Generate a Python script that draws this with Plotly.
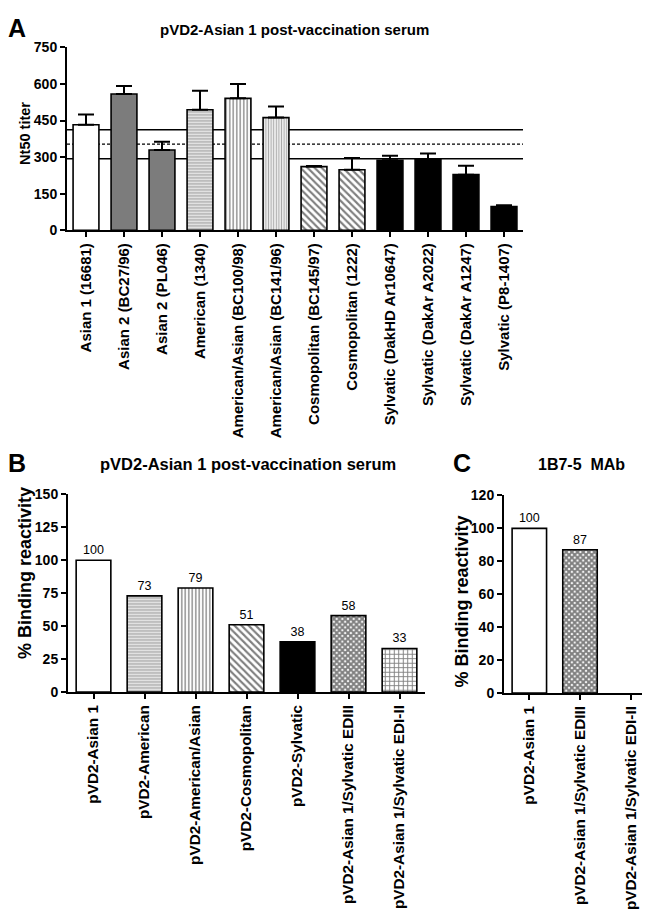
import plotly.graph_objects as go

FONT = "Liberation Sans, Arial, sans-serif"

# ---------------- Panel A data ----------------
strains_A = ["Asian 1 (16681)", "Asian 2 (BC27/96)", "Asian 2 (PL046)", "American (1340)",
             "American/Asian (BC100/98)", "American/Asian (BC141/96)", "Cosmopolitan (BC145/97)",
             "Cosmopolitan (1222)", "Sylvatic (DakHD Ar10647)", "Sylvatic (DakAr A2022)",
             "Sylvatic (DakAr A1247)", "Sylvatic (P8-1407)"]
nt50_titer = [433, 559, 329, 494, 541, 462, 261, 248, 287, 291, 228, 97]
nt50_err_up = [42, 33, 34, 78, 59, 46, 2, 48, 18, 24, 36, 5]
ref_mean = 353
ref_upper = 412
ref_lower = 293
yticks_A = [0, 150, 300, 450, 600, 750]

# ---------------- Panel B data ----------------
viruses_B = ["pVD2-Asian 1", "pVD2-American", "pVD2-American/Asian", "pVD2-Cosmopolitan",
             "pVD2-Sylvatic", "pVD2-Asian 1/Sylvatic EDIII", "pVD2-Asian 1/Sylvatic EDI-II"]
binding_B = [100, 73, 79, 51, 38, 58, 33]
yticks_B = [0, 25, 50, 75, 100, 125, 150]

# ---------------- Panel C data ----------------
viruses_C = ["pVD2-Asian 1", "pVD2-Asian 1/Sylvatic EDIII", "pVD2-Asian 1/Sylvatic EDI-II"]
binding_C = [100, 87, None]
yticks_C = [0, 20, 40, 60, 80, 100, 120]

W, H = 650, 913


def px(x):
    return x / W


def py(y):
    return 1 - y / H


# styles
WHITE = dict(color="white")
GRAY = dict(color="#7c7c7c")
BLACK = dict(color="black")
HLINES = dict(color="white", pattern=dict(shape="-", fgcolor="#444444", bgcolor="white", size=3, solidity=0.55))
VLINES = dict(color="white", pattern=dict(shape="|", fgcolor="#151515", bgcolor="white", size=3.5, solidity=0.4))
VLINES2 = dict(color="white", pattern=dict(shape="|", fgcolor="#555555", bgcolor="white", size=2.6, solidity=0.5))
DIAG = dict(color="white", pattern=dict(shape="\\", fgcolor="black", bgcolor="white", size=5, solidity=0.42))
CHECK = dict(color="white", pattern=dict(shape="x", fgcolor="black", bgcolor="white", size=4, solidity=0.75))
GRID = dict(color="white", pattern=dict(shape="+", fgcolor="black", bgcolor="white", size=4.5, solidity=0.38))

styles_A = [WHITE, GRAY, GRAY, HLINES, VLINES, VLINES2, DIAG, DIAG, BLACK, BLACK, BLACK, BLACK]
styles_B = [WHITE, HLINES, VLINES, DIAG, BLACK, CHECK, GRID]
styles_C = [WHITE, CHECK, WHITE]

fig = go.Figure()


def add_bars(cats, vals, styles, xa, ya, err=None, labels=False):
    for i, (c, v, s) in enumerate(zip(cats, vals, styles)):
        marker = dict(line=dict(color="black", width=1.6))
        marker["color"] = s["color"]
        if "pattern" in s:
            marker["pattern"] = s["pattern"]
        kw = {}
        if err is not None:
            kw["error_y"] = dict(type="data", symmetric=False, array=[err[i]], arrayminus=[0],
                                 color="black", thickness=2, width=8)
        if labels and v is not None:
            kw["text"] = [str(v)]
            kw["textposition"] = "outside"
            kw["textfont"] = dict(family=FONT, size=12.5, color="black")
            kw["cliponaxis"] = False
        fig.add_trace(go.Bar(x=[c], y=[v], marker=marker, xaxis=xa, yaxis=ya,
                             width=0.68, showlegend=False, hoverinfo="skip", **kw))


add_bars(strains_A, nt50_titer, styles_A, "x", "y", err=nt50_err_up)
add_bars(viruses_B, binding_B, styles_B, "x2", "y2", labels=True)
add_bars(viruses_C, binding_C, styles_C, "x3", "y3", labels=True)

# reference lines in panel A
for val, dash in [(ref_upper, "solid"), (ref_mean, "3px,2px"), (ref_lower, "solid")]:
    fig.add_shape(type="line", xref="x domain", yref="y", x0=0, x1=1, y0=val, y1=val,
                  line=dict(color="black", width=1.4, dash=dash), layer="below")

tickfont = dict(family=FONT, size=14, color="black", weight="bold")


def yax(domain, vals, anchor):
    return dict(domain=domain, range=[0, vals[-1]], tickvals=vals, showline=True, linecolor="black",
                linewidth=2, ticks="outside", ticklen=5, tickwidth=2, tickcolor="black",
                showgrid=False, zeroline=False, tickfont=tickfont, anchor=anchor, fixedrange=True)


def xax(domain, cats, anchor, size):
    return dict(domain=domain, type="category", categoryorder="array", categoryarray=cats,
                range=[-0.5, len(cats) - 0.5], showline=True, linecolor="black", linewidth=2,
                ticks="outside", ticklen=5, tickwidth=2, tickcolor="black", showgrid=False,
                zeroline=False, tickangle=-90,
                tickfont=dict(family=FONT, size=size, color="black", weight="bold"),
                anchor=anchor, fixedrange=True)


fig.update_layout(
    width=W, height=H, margin=dict(l=0, r=0, t=0, b=0),
    paper_bgcolor="white", plot_bgcolor="white", barmode="overlay",
    font=dict(family=FONT, color="black"),
    xaxis=xax([px(59), px(515)], strains_A, "y", 15),
    yaxis=yax([py(218), py(32)], yticks_A, "x"),
    xaxis2=xax([px(60), px(417)], viruses_B, "y2", 15.3),
    yaxis2=yax([py(688), py(487)], yticks_B, "x2"),
    xaxis3=xax([px(496), px(648)], viruses_C, "y3", 15.3),
    yaxis3=yax([py(689), py(488)], yticks_C, "x3"),
)

ann = []


def text(x, y, s, size, angle=0, bold=True):
    ann.append(dict(x=px(x), y=py(y), xref="paper", yref="paper", text=s, showarrow=False,
                    xanchor="center", yanchor="middle", textangle=angle,
                    font=dict(family=FONT, size=size, color="black",
                              weight="bold" if bold else "normal")))


text(9, 12, "A", 25)
text(9, 455, "B", 25)
text(454, 455, "C", 25)
text(286, 14, "pVD2-Asian 1 post-vaccination serum", 15)
text(240, 456, "pVD2-Asian 1 post-vaccination serum", 16.5)
text(573, 456, "1B7-5&nbsp;&nbsp;MAb", 16)
text(17, 120, "Nt50 titer", 14.5, angle=-90)
text(17, 567, "% Binding reactivity", 18, angle=-90)
text(454, 596, "% Binding reactivity", 18, angle=-90)
fig.update_layout(annotations=ann)

fig.write_html("out.html")
